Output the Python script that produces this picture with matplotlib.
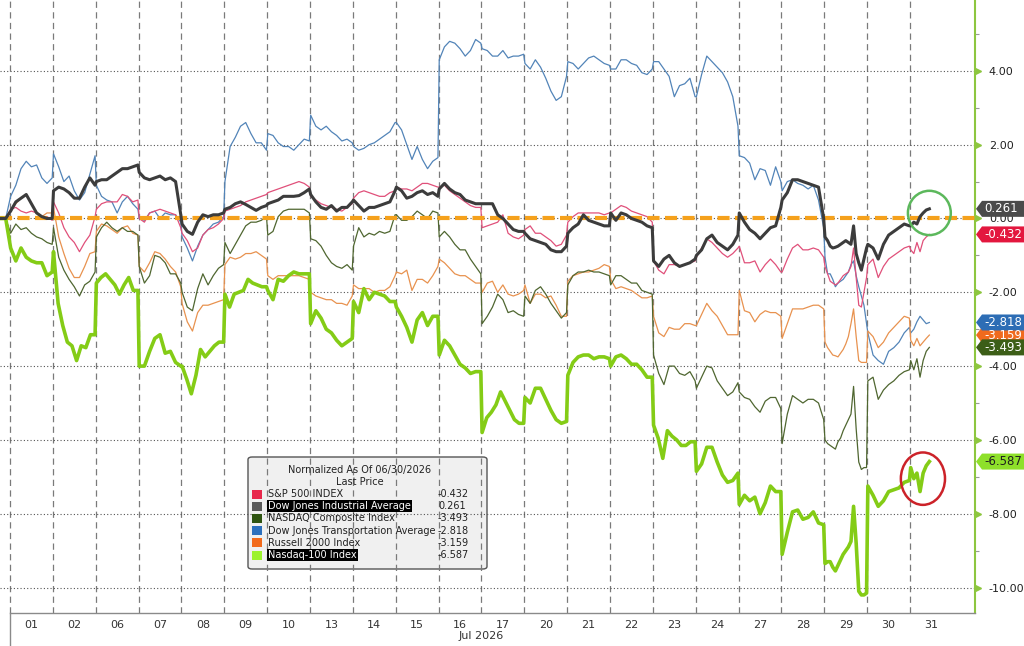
import numpy as np
import matplotlib
matplotlib.use("Agg")
import matplotlib.pyplot as plt
from matplotlib.patches import Polygon, Ellipse, Rectangle, FancyBboxPatch
from matplotlib.transforms import IdentityTransform, blended_transform_factory, ScaledTranslation

# ---------------- data ----------------
days = ["01", "02", "06", "07", "08", "09", "10", "13", "14", "15", "16",
        "17", "20", "21", "22", "23", "24", "27", "28", "29", "30", "31"]
month_label = "Jul 2026"
legend_title = ["Normalized As Of 06/30/2026", "Last Price"]
names = ["S&P 500 INDEX", "Dow Jones Industrial Average", "NASDAQ Composite Index",
         "Dow Jones Transportation Average", "Russell 2000 Index", "Nasdaq-100 Index"]
base_value = 0.0
last_day_fraction = 0.45

sp500 = [
 [0.25, 0.3, 0.2, 0.15, 0.2, 0.15, 0.05, 0.05, -0.05],
 [0.45, 0.15, -0.25, -0.5, -0.65, -0.9, -0.65, -0.45, 0.05],
 [0.25, 0.4, 0.45, 0.45, 0.45, 0.65, 0.6, 0.45, 0.5],
 [0.0, -0.1, 0.15, 0.2, 0.25, 0.2, 0.15, 0.1, -0.25],
 [-0.4, -0.6, -0.9, -0.8, -0.45, -0.3, -0.25, -0.15, 0.0],
 [0.2, 0.25, 0.3, 0.35, 0.45, 0.5, 0.55, 0.6, 0.65],
 [0.7, 0.75, 0.8, 0.85, 0.9, 0.95, 1.0, 0.95, 0.85],
 [0.6, 0.5, 0.4, 0.35, 0.3, 0.25, 0.2, 0.3, 0.4],
 [0.55, 0.7, 0.75, 0.7, 0.65, 0.6, 0.6, 0.7, 0.75],
 [0.85, 0.8, 0.8, 0.75, 0.85, 0.95, 0.95, 0.9, 0.85],
 [0.85, 0.9, 0.75, 0.65, 0.55, 0.45, 0.35, 0.3, 0.3],
 [-0.25, -0.2, -0.15, -0.1, 0.1, -0.4, -0.5, -0.55, -0.45],
 [-0.3, -0.2, -0.4, -0.4, -0.5, -0.6, -0.75, -0.7, -0.45],
 [-0.1, 0.05, 0.15, 0.15, 0.15, 0.15, 0.15, 0.1, 0.15],
 [0.15, 0.25, 0.35, 0.3, 0.2, 0.15, 0.1, 0.05, -0.1],
 [-1.15, -1.4, -1.5, -1.25, -1.25, -1.3, -1.25, -1.2, -1.15],
 [-1.05, -0.8, -0.55, -0.65, -0.8, -0.95, -1.05, -0.95, -0.8],
 [-0.75, -1.2, -1.2, -1.15, -1.45, -1.25, -1.1, -1.25, -1.45],
 [-1.45, -1.1, -0.8, -0.7, -0.85, -0.85, -0.8, -0.85, -1.05],
 [-1.3, -1.5, -1.7, -1.75, -1.8, -1.75, -1.65, -1.55, -1.5, -1.45, -1.3, -0.8, -1.6, -2.35, -2.4, -2.0, -1.6],
 [-1.25, -1.1, -1.6, -1.3, -1.1, -1.0, -0.9, -0.8, -0.75],
 [-0.85, -0.95, -0.65, -0.9, -0.6, -0.5, -0.432],
]

djia = [
 [0.2, 0.45, 0.55, 0.65, 0.4, 0.15, 0.05, 0.0, 0.0],
 [0.75, 0.85, 0.8, 0.7, 0.55, 0.55, 0.85, 1.1, 0.9],
 [1.0, 1.05, 1.05, 1.15, 1.25, 1.35, 1.35, 1.4, 1.45],
 [1.25, 1.1, 1.05, 1.1, 1.15, 1.05, 1.1, 1.0, 0.1],
 [-0.15, -0.35, -0.43, -0.1, 0.1, 0.05, 0.1, 0.1, 0.15],
 [0.25, 0.3, 0.4, 0.45, 0.38, 0.3, 0.22, 0.3, 0.35],
 [0.4, 0.45, 0.5, 0.6, 0.6, 0.6, 0.62, 0.7, 0.8],
 [0.65, 0.45, 0.3, 0.25, 0.35, 0.2, 0.3, 0.3, 0.45],
 [0.5, 0.35, 0.2, 0.3, 0.3, 0.35, 0.4, 0.45, 0.75],
 [0.85, 0.75, 0.55, 0.6, 0.7, 0.75, 0.65, 0.7, 0.6],
 [0.8, 0.95, 0.8, 0.7, 0.65, 0.5, 0.45, 0.4, 0.4],
 [0.4, 0.4, 0.4, 0.1, 0.0, -0.15, -0.3, -0.35, -0.35],
 [-0.4, -0.55, -0.6, -0.65, -0.7, -0.85, -0.9, -0.9, -0.75],
 [-0.4, -0.25, -0.15, 0.1, -0.05, -0.1, -0.15, -0.2, -0.2],
 [0.15, -0.05, 0.15, 0.1, 0.0, -0.05, -0.1, -0.2, -0.25],
 [-1.15, -1.3, -1.1, -1.0, -1.2, -1.3, -1.25, -1.2, -1.1],
 [-1.0, -0.85, -0.55, -0.45, -0.65, -0.75, -0.85, -0.7, -0.45],
 [0.15, -0.1, -0.3, -0.4, -0.55, -0.4, -0.25, -0.2, 0.3],
 [0.5, 0.7, 1.05, 1.05, 1.0, 0.95, 0.9, 0.85, 0.0],
 [-0.5, -0.6, -0.75, -0.8, -0.78, -0.75, -0.7, -0.65, -0.6, -0.65, -0.7, -0.2, -0.95, -1.2, -1.4, -1.1, -0.8],
 [-0.7, -0.8, -1.1, -0.7, -0.45, -0.35, -0.25, -0.15, -0.2],
 [-0.2, -0.1, -0.15, 0.05, 0.15, 0.23, 0.261],
]

nasdaq = [
 [-0.4, -0.15, -0.3, -0.25, -0.4, -0.5, -0.55, -0.65, -0.7],
 [-0.25, -1.05, -1.4, -1.65, -1.85, -2.1, -1.8, -1.7, -1.45],
 [-0.5, -0.25, -0.1, -0.25, -0.35, -0.25, -0.35, -0.35, -0.45],
 [-1.3, -1.75, -1.55, -1.0, -1.05, -1.2, -1.5, -1.5, -1.75],
 [-2.0, -2.4, -2.5, -1.9, -1.5, -1.8, -1.55, -1.35, -1.25],
 [-0.65, -0.95, -0.7, -0.45, -0.2, -0.1, -0.1, -0.05, 0.05],
 [-0.45, -0.35, 0.05, 0.2, 0.25, 0.25, 0.25, 0.25, 0.15],
 [-0.55, -0.6, -0.75, -1.0, -1.2, -1.3, -1.35, -1.25, -1.4],
 [-0.75, -0.25, -0.5, -0.4, -0.45, -0.35, -0.4, -0.35, 0.1],
 [0.1, -0.05, -0.05, 0.05, 0.2, 0.1, 0.0, 0.2, 0.15],
 [-0.5, -0.35, -0.5, -0.7, -0.85, -0.85, -1.1, -1.3, -1.5],
 [-2.85, -2.65, -2.4, -2.05, -2.2, -2.55, -2.5, -2.6, -2.65],
 [-2.1, -2.3, -1.95, -1.85, -2.05, -2.3, -2.5, -2.7, -2.55],
 [-1.8, -1.55, -1.45, -1.45, -1.4, -1.45, -1.45, -1.5, -1.55],
 [-1.8, -1.55, -1.55, -1.65, -1.75, -1.75, -1.95, -2.0, -2.05],
 [-3.7, -4.2, -4.5, -4.0, -4.0, -4.2, -4.25, -4.15, -4.4],
 [-4.6, -4.3, -4.0, -4.05, -4.4, -4.6, -4.8, -4.7, -4.45],
 [-4.7, -4.85, -4.9, -5.1, -5.25, -4.95, -4.85, -4.85, -5.15],
 [-6.1, -5.3, -4.8, -4.9, -5.0, -4.9, -4.9, -5.0, -5.45],
 [-6.0, -6.1, -6.15, -6.2, -6.25, -6.05, -5.95, -5.75, -5.6, -5.45, -5.3, -4.55, -5.7, -6.6, -6.8, -6.75, -6.75],
 [-4.4, -4.3, -4.9, -4.65, -4.5, -4.4, -4.25, -4.15, -4.1],
 [-3.85, -4.1, -3.8, -4.3, -3.85, -3.6, -3.493],
]

transport = [
 [0.6, 0.9, 1.35, 1.55, 1.4, 1.45, 1.1, 0.95, 1.1],
 [1.75, 1.4, 1.0, 1.15, 0.75, 0.5, 0.7, 1.2, 1.7],
 [0.9, 0.6, 0.5, 0.45, 0.15, 0.45, 0.6, 0.4, 0.25],
 [0.0, -0.05, 0.15, 0.2, 0.0, 0.15, 0.1, 0.1, -0.1],
 [-0.5, -0.8, -1.15, -0.75, -0.45, -0.3, -0.15, -0.1, 0.05],
 [1.0, 1.95, 2.2, 2.5, 2.6, 2.3, 2.05, 2.05, 1.85],
 [2.3, 2.25, 2.05, 1.95, 1.95, 1.85, 2.0, 2.15, 2.1],
 [2.8, 2.5, 2.4, 2.5, 2.35, 2.25, 2.1, 2.15, 2.05],
 [1.95, 1.85, 1.9, 2.0, 2.05, 2.15, 2.25, 2.35, 2.6],
 [2.6, 2.4, 2.0, 1.6, 1.95, 1.6, 1.35, 1.55, 1.65],
 [4.3, 4.65, 4.8, 4.75, 4.6, 4.4, 4.55, 4.85, 4.75],
 [4.6, 4.55, 4.4, 4.4, 4.55, 4.35, 4.4, 4.4, 4.45],
 [4.2, 4.05, 4.3, 4.1, 3.8, 3.45, 3.2, 3.3, 3.85],
 [4.25, 4.2, 4.05, 4.2, 4.35, 4.4, 4.3, 4.2, 4.15],
 [4.05, 4.05, 4.3, 4.3, 4.2, 4.15, 3.95, 3.9, 4.05],
 [4.25, 4.25, 4.05, 3.85, 3.3, 3.6, 3.65, 3.8, 3.3],
 [3.3, 3.9, 4.4, 4.25, 4.1, 3.95, 3.7, 3.3, 2.5],
 [1.7, 1.65, 1.5, 1.05, 1.35, 1.3, 0.9, 1.4, 1.0],
 [0.75, 1.0, 1.05, 0.95, 0.9, 0.8, 0.9, 0.5, -0.25],
 [-1.05, -1.5, -1.5, -1.65, -1.85, -1.75, -1.7, -1.65, -1.55, -1.45, -1.25, -1.15, -1.55, -1.85, -2.1, -2.35, -2.85],
 [-3.1, -3.7, -3.85, -3.95, -3.6, -3.5, -3.35, -3.1, -2.95],
 [-3.1, -3.0, -2.8, -2.65, -2.75, -2.85, -2.818],
]

russell = [
 [0.2, 0.4, 0.55, 0.65, 0.4, 0.15, 0.05, 0.15, 0.15],
 [0.3, -0.5, -0.95, -1.35, -1.6, -1.6, -1.3, -0.95, -0.9],
 [-0.35, -0.15, -0.2, -0.3, -0.4, -0.25, -0.2, -0.4, -0.45],
 [-1.3, -1.45, -1.2, -0.9, -0.95, -1.1, -1.3, -1.45, -1.85],
 [-2.3, -2.8, -3.05, -2.55, -2.35, -2.35, -2.3, -2.25, -2.2],
 [-1.25, -1.05, -1.1, -1.05, -0.95, -0.95, -0.9, -1.0, -1.1],
 [-1.55, -1.65, -1.55, -1.55, -1.55, -1.55, -1.55, -1.6, -1.65],
 [-2.0, -2.1, -2.15, -2.2, -2.2, -2.3, -2.3, -2.35, -2.1],
 [-1.8, -1.9, -1.9, -1.9, -2.0, -1.95, -1.95, -1.85, -1.55],
 [-1.45, -1.5, -1.4, -1.95, -1.65, -1.65, -1.75, -1.55, -1.3],
 [-1.1, -1.2, -1.35, -1.5, -1.55, -1.55, -1.65, -1.75, -1.75],
 [-2.0, -1.75, -1.7, -2.0, -1.8, -2.05, -2.1, -2.05, -1.95],
 [-1.8, -2.3, -2.05, -2.05, -2.15, -2.1, -2.35, -2.65, -2.65],
 [-1.7, -1.55, -1.5, -1.45, -1.45, -1.4, -1.35, -1.25, -1.3],
 [-1.65, -1.9, -1.85, -1.9, -1.95, -2.05, -2.15, -2.15, -2.1],
 [-2.65, -3.1, -3.2, -2.95, -3.0, -3.0, -2.85, -2.85, -2.9],
 [-2.9, -2.6, -2.3, -2.5, -2.65, -2.9, -3.15, -3.15, -3.15],
 [-1.95, -2.5, -2.55, -2.8, -2.6, -2.5, -2.55, -2.55, -2.65],
 [-3.25, -2.85, -2.45, -2.45, -2.45, -2.4, -2.35, -2.35, -2.45],
 [-3.35, -3.5, -3.6, -3.7, -3.72, -3.75, -3.65, -3.55, -3.4, -3.2, -2.85, -2.45, -3.2, -3.85, -3.9, -3.9, -3.9],
 [-3.05, -3.2, -3.5, -3.35, -3.1, -2.95, -2.8, -2.65, -2.7],
 [-3.3, -3.45, -3.25, -3.45, -3.35, -3.25, -3.159],
]

nq100 = [
 [-0.8, -1.15, -0.8, -1.05, -1.15, -1.2, -1.2, -1.55, -1.45],
 [-0.9, -2.3, -2.9, -3.35, -3.45, -3.85, -3.45, -3.5, -3.15, -3.15],
 [-1.75, -1.6, -1.5, -1.65, -1.8, -2.05, -1.8, -1.6, -1.95, -1.95],
 [-4.0, -4.0, -3.6, -3.25, -3.15, -3.65, -3.6, -3.9, -4.0],
 [-4.0, -4.35, -4.75, -4.25, -3.55, -3.75, -3.6, -3.45, -3.35, -3.35],
 [-2.05, -2.4, -2.05, -2.0, -1.95, -1.65, -1.75, -1.8, -1.85, -1.85],
 [-1.95, -2.2, -1.65, -1.7, -1.55, -1.45, -1.5, -1.5, -1.5],
 [-2.85, -2.5, -2.7, -3.0, -3.1, -3.3, -3.45, -3.35, -3.25],
 [-2.25, -2.55, -1.9, -2.2, -2.0, -2.05, -2.1, -2.25, -2.25],
 [-2.4, -2.65, -2.95, -3.35, -2.75, -2.55, -2.9, -2.65, -2.65],
 [-3.7, -3.3, -3.45, -3.7, -3.95, -4.05, -4.2, -4.15, -4.15],
 [-5.8, -5.4, -5.25, -5.05, -4.7, -4.95, -5.2, -5.45, -5.55, -5.55],
 [-4.85, -5.0, -4.6, -4.6, -4.9, -5.2, -5.45, -5.55, -5.5],
 [-4.25, -3.9, -3.75, -3.7, -3.7, -3.8, -3.75, -3.75, -3.8],
 [-4.0, -3.75, -3.7, -3.8, -3.95, -3.95, -4.1, -4.3, -4.3],
 [-5.6, -5.95, -6.5, -5.75, -5.9, -6.0, -6.15, -6.15, -6.05, -6.05],
 [-6.85, -6.65, -6.2, -6.2, -6.6, -6.95, -7.15, -7.1, -6.9],
 [-7.75, -7.5, -7.65, -7.55, -8.0, -7.7, -7.25, -7.4, -7.4],
 [-9.1, -8.5, -7.95, -7.9, -8.15, -8.1, -7.95, -8.25, -8.3],
 [-9.35, -9.3, -9.3, -9.45, -9.55, -9.4, -9.25, -9.1, -9.0, -8.9, -8.75, -7.8, -8.8, -10.1, -10.2, -10.2, -10.15],
 [-7.25, -7.5, -7.8, -7.65, -7.4, -7.35, -7.3, -7.15, -7.1],
 [-6.75, -7.05, -6.9, -7.4, -6.9, -6.7, -6.587],
]

series = [sp500, djia, nasdaq, transport, russell, nq100]
line_colors = ["#e0507a", "#3c3c3c", "#4f6630", "#5284b8", "#e8924f", "#84cc16"]
line_widths = [0.9, 2.2, 0.9, 0.9, 0.9, 2.6]
line_z = [3.2, 4.2, 3.1, 3.0, 3.05, 4.1]
legend_colors = ["#e8274b", "#5a5a5a", "#2e5410", "#2c70bd", "#f26a1b", "#9cf22e"]
tag_colors = ["#e3173e", "#4a4a4a", "#3c5e17", "#2d6db5", "#f06a1d", "#8ee02a"]
tag_text_colors = ["white", "white", "white", "white", "white", "#1f1f1f"]


def build(days_vals):
    t = [-0.23, -0.1]
    v = [base_value, base_value]
    n_days = len(days_vals)
    for d, vals in enumerate(days_vals):
        end = last_day_fraction if d == n_days - 1 else 0.985
        tt = d + np.linspace(0.015, end, len(vals))
        t.extend(tt.tolist())
        v.extend(vals)
    return np.array(t), np.array(v)


# ---------------- figure ----------------
W, H = 1024, 646
fig = plt.figure(figsize=(W / 100, H / 100), dpi=100)
fig.patch.set_facecolor("white")
ax = fig.add_axes([0, 33 / H, 975 / W, 613 / H])
ax.set_facecolor("white")
xmin, xmax = -0.233, 22.515
ymin, ymax = -10.69, 5.92
ax.set_xlim(xmin, xmax)
ax.set_ylim(ymin, ymax)

# grid
for d in range(len(days)):
    ax.axvline(d, color="#7a7a7a", lw=0.9, ls=(0, (5, 3.5)), zorder=1)
yt = np.arange(-10, 5, 2)
for y in yt:
    ax.axhline(y, color="#555555", lw=0.8, ls=(0, (1, 2)), zorder=1)

# zero line
ax.axhline(0, color="#f5a11c", lw=3.0, ls=(0, (2.9, 1.3)), zorder=3.6)

# series
for s, c, lw, z in zip(series, line_colors, line_widths, line_z):
    t, v = build(s)
    ax.plot(t, v, color=c, lw=lw, zorder=z, solid_joinstyle="round")

# circles
ax.add_patch(Ellipse((21.45, 0.15), 1.0, 1.2, fill=False, ec="#5cb85c", lw=1.8, zorder=6, clip_on=False))
ax.add_patch(Ellipse((21.3, -7.05), 1.03, 1.42, fill=False, ec="#cc2229", lw=1.8, zorder=6, clip_on=False))

# spines
for s in ["top", "left"]:
    ax.spines[s].set_visible(False)
ax.spines["right"].set_color("#8dc63f")
ax.spines["right"].set_linewidth(1.5)
ax.spines["bottom"].set_color("#8a8a8a")
ax.spines["bottom"].set_linewidth(1.0)
ax.spines["bottom"].set_bounds(0, xmax)

# y axis (right)
ax.yaxis.tick_right()
ax.set_yticks(yt)
ax.set_yticklabels(["%.2f" % y for y in yt])
ax.set_yticks(np.arange(-9, 6, 2), minor=True)
ax.tick_params(axis="y", which="major", length=0, pad=10, labelsize=8, labelcolor="#222222")
ax.tick_params(axis="y", which="minor", length=3, width=0.8, color="#999999", direction="out")
tri_tr = blended_transform_factory(ax.transAxes, ax.transData) + ScaledTranslation(3 / 100, 0, fig.dpi_scale_trans)
ax.plot(np.ones(len(yt)), yt, ls="none", marker=">", ms=5, color="#8dc63f", transform=tri_tr, clip_on=False, zorder=7)

# x axis
ax.set_xticks(np.arange(len(days)) + 0.5)
ax.set_xticklabels(days)
ax.tick_params(axis="x", length=0, pad=5, labelsize=8, labelcolor="#333333")
xtr = blended_transform_factory(ax.transData, ax.transAxes)
ax.text(11.0, -0.038, month_label, transform=xtr, ha="center", va="center", fontsize=8, color="#333333")
ax.plot([0, 0], [0, -0.06], transform=xtr, color="#8a8a8a", lw=1.0, clip_on=False)

# legend (manual, Bloomberg style)
lx0, lx1, ly0, ly1 = 248, 487, 457, 569
leg = FancyBboxPatch((lx0 / W, 1 - ly1 / H), (lx1 - lx0) / W, (ly1 - ly0) / H,
                     boxstyle="round,pad=0,rounding_size=0.004", transform=fig.transFigure,
                     fc="#f0f0f0", ec="#555555", lw=1.0, zorder=0.8, clip_on=False)
ax.add_patch(leg)
ax.text(360 / W, 1 - 470 / H, legend_title[0], transform=fig.transFigure, ha="center", va="center",
        fontsize=7, color="#222222", zorder=8)
ax.text(360 / W, 1 - 482 / H, legend_title[1], transform=fig.transFigure, ha="center", va="center",
        fontsize=7, color="#222222", zorder=8)
for i, (nm, s, lc) in enumerate(zip(names, series, legend_colors)):
    yy = 494 + i * 12.2
    ax.add_patch(Rectangle((252 / W, 1 - (yy + 4.5) / H), 10 / W, 9 / H, transform=fig.transFigure,
                           fc=lc, ec="none", zorder=8, clip_on=False))
    hl = i in (1, 5)
    kw = dict(bbox=dict(fc="black", ec="none", pad=0.6)) if hl else {}
    ax.text(268 / W, 1 - yy / H, nm, transform=fig.transFigure, ha="left", va="center", fontsize=7,
            color="white" if hl else "#222222", zorder=8, **kw)
    ax.text(438 / W, 1 - yy / H, "%.3f" % s[-1][-1], transform=fig.transFigure, ha="left", va="center",
            fontsize=7, color="#222222", zorder=8)

# value tags on the right
fig.canvas.draw()
order = [4, 3, 2, 0, 1, 5]
for i in order:
    val = series[i][-1][-1]
    yd = ax.transData.transform((0, val))[1]
    xl = 976
    poly = Polygon([(xl, yd), (xl + 6, yd - 8), (W + 2, yd - 8), (W + 2, yd + 8), (xl + 6, yd + 8)],
                   closed=True, transform=IdentityTransform(), fc=tag_colors[i], ec="none", zorder=20)
    fig.add_artist(poly)
    fig.text(984 / W, yd / H, "%.3f" % val, ha="left", va="center", fontsize=8.5,
             color=tag_text_colors[i], zorder=21)

fig.savefig("out.png", dpi=100)
